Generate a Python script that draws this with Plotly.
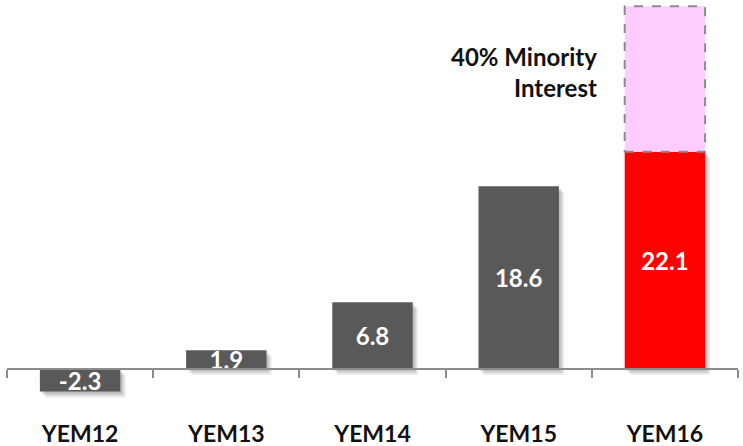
import plotly.graph_objects as go

categories = ["YEM12", "YEM13", "YEM14", "YEM15", "YEM16"]
values = [-2.3, 1.9, 6.8, 18.6, 22.1]
bar_colors = ["#595959", "#595959", "#595959", "#595959", "#ff0000"]
minority = [None, None, None, None, 14.8]
minority_label = "40% Minority<br>Interest"

FONT = "Lato"
BAR_W = 0.55
Y_RANGE = [-5.8, 37.54]

fig = go.Figure()

# soft drop shadow: a few translucent copies nudged right and down
for dx, dy, alpha in [(0.012, 0.2, 0.10), (0.024, 0.4, 0.10), (0.036, 0.6, 0.08)]:
    fig.add_trace(go.Bar(
        x=categories, y=values, base=-dy, width=BAR_W, offset=-BAR_W / 2 + dx,
        marker=dict(color=f"rgba(0,0,0,{alpha})", line=dict(width=0)),
        hoverinfo="skip", showlegend=False,
    ))

fig.add_trace(go.Bar(
    x=categories, y=values, width=BAR_W, offset=-BAR_W / 2,
    marker=dict(color=bar_colors, line=dict(width=0)),
    text=[f"{v:.1f}" for v in values], textposition="inside",
    insidetextanchor="middle", constraintext="none",
    textfont=dict(family=FONT, size=24, color="white", weight="bold"),
    showlegend=False,
))

# minority interest sits on top of the YEM16 bar
fig.add_trace(go.Bar(
    x=categories, y=minority,
    base=[v if m is not None else None for v, m in zip(values, minority)],
    width=BAR_W, offset=-BAR_W / 2,
    marker=dict(color="#ffccff", line=dict(width=0)),
    showlegend=False,
))
for i, m in enumerate(minority):
    if m is not None:
        fig.add_shape(
            type="rect", xref="x", yref="y",
            x0=i - BAR_W / 2, x1=i + BAR_W / 2, y0=values[i], y1=values[i] + m,
            line=dict(color="#8c8c8c", width=2, dash="dash"),
        )

fig.add_annotation(
    text=minority_label, xref="paper", yref="paper", x=0.81, y=0.83,
    xanchor="right", yanchor="middle", align="right", showarrow=False,
    font=dict(family=FONT, size=24, color="#111111", weight="bold"),
)

zero_pos = (0 - Y_RANGE[0]) / (Y_RANGE[1] - Y_RANGE[0])

fig.update_layout(
    width=743, height=446,
    margin=dict(l=7, r=5, t=0, b=20),
    plot_bgcolor="white", paper_bgcolor="white",
    barmode="overlay",
    xaxis=dict(
        type="category", range=[-0.5, 4.5], anchor="free", position=zero_pos,
        showline=True, linecolor="#8c8c8c", linewidth=2,
        ticks="outside", tickson="boundaries", ticklen=8, tickwidth=2,
        tickcolor="#8c8c8c", ticklabelstandoff=44, automargin=False,
        tickfont=dict(family=FONT, size=23, color="#111111", weight="bold"),
        showgrid=False, zeroline=False,
    ),
    yaxis=dict(range=Y_RANGE, visible=False, showgrid=False, zeroline=False),
)

fig.write_html("out.html", config={"displayModeBar": False},
               post_script="document.body.style.margin='0';")
